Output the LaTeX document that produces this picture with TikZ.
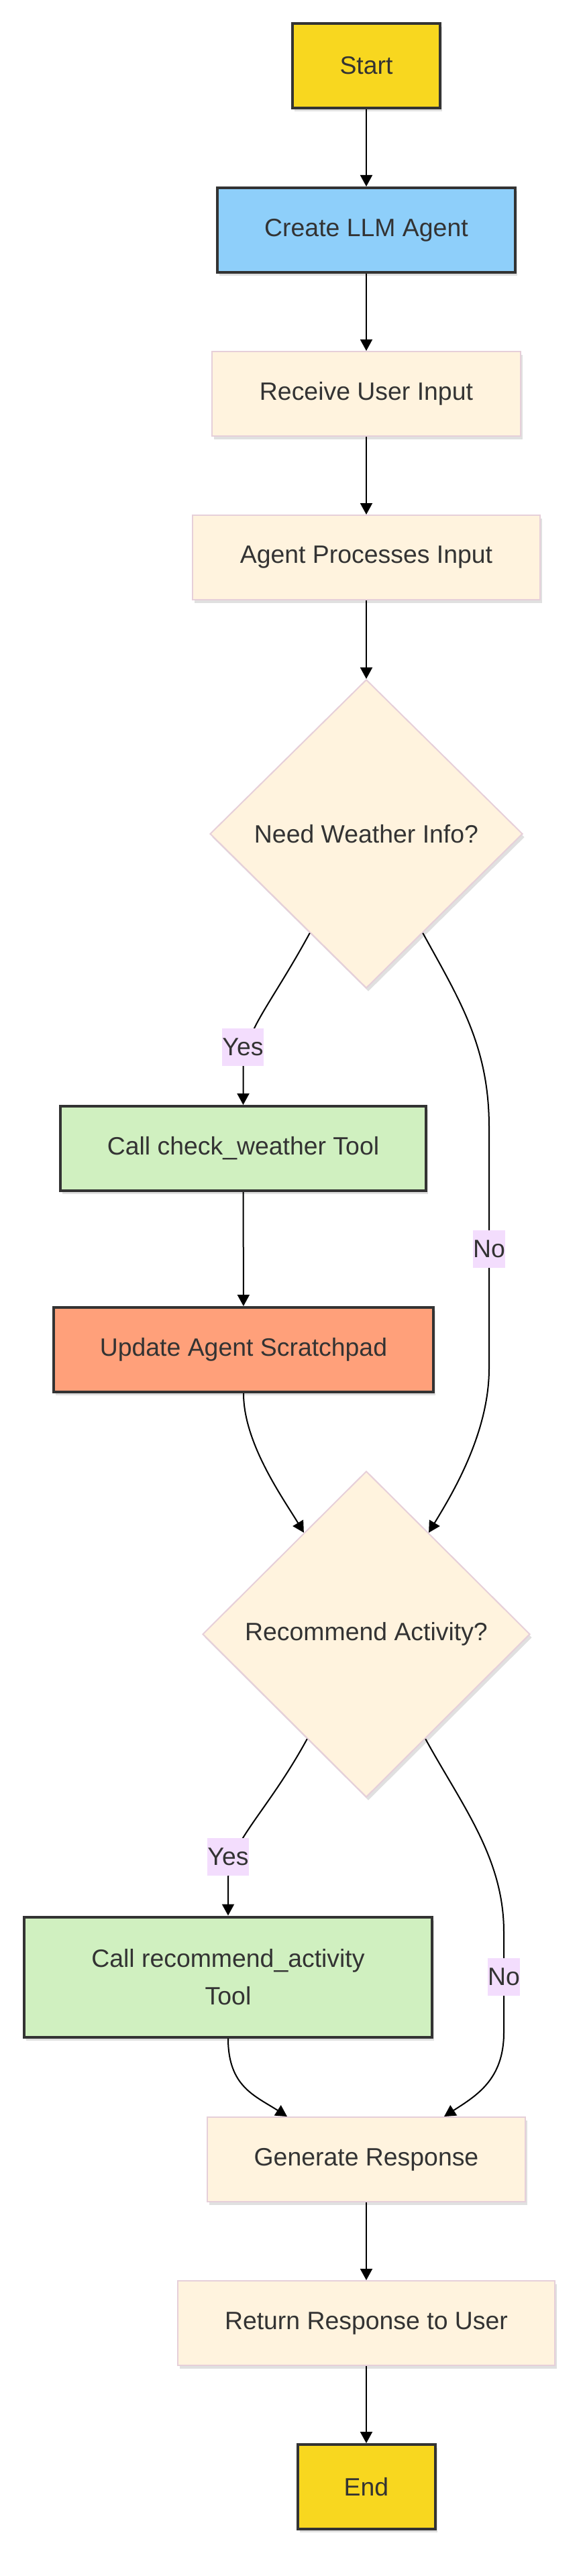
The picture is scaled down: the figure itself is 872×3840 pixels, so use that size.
\documentclass[tikz,border=0pt]{standalone}
\usepackage{fontspec}
\setmainfont{Liberation Sans}
\usetikzlibrary{arrows.meta,shapes.geometric,shadows,calc}

\definecolor{inkgray}{HTML}{333333}
\definecolor{startyellow}{HTML}{F8D71F}
\definecolor{agentblue}{HTML}{8ECFFA}
\definecolor{stepbeige}{HTML}{FFF3DE}
\definecolor{stepedge}{HTML}{E6CFD9}
\definecolor{toolgreen}{HTML}{D0F0C0}
\definecolor{padsalmon}{HTML}{FFA07A}
\definecolor{lblpurple}{HTML}{F3DDFD}

\begin{document}
\begin{tikzpicture}[x=1pt, y=-1pt,
    every node/.style={font=\fontsize{37.4}{56.5}\selectfont, text=inkgray, align=center},
    shade box/.style={drop shadow={fill=black, opacity=0.12, shadow xshift=3pt, shadow yshift=-5pt}},
    hardbox/.style={rectangle, draw=inkgray, line width=4pt, minimum height=126pt, shade box},
    softbox/.style={rectangle, draw=stepedge, line width=2pt, fill=stepbeige, minimum height=126pt, shade box},
    choice/.style={diamond, draw=stepedge, line width=2pt, fill=stepbeige, inner sep=0pt, shade box},
    lbl/.style={fill=lblpurple, inner xsep=0pt, inner ysep=0pt, minimum height=56pt},
    flow/.style={-{Triangle[width=18pt,length=17pt]}, line width=2pt, black}]
    \useasboundingbox (0,0) rectangle (872,3840);

    \node[hardbox, fill=startyellow, minimum width=220pt] (start) at (546,98) {Start};
    \node[hardbox, fill=agentblue, minimum width=444pt] (create) at (546,343) {Create LLM Agent};
    \node[softbox, minimum width=460pt] (receive) at (546,587) {Receive User Input};
    \node[softbox, minimum width=518pt] (process) at (546,831) {Agent Processes Input};
    \node[choice, minimum width=466pt, minimum height=460pt] (weather) at (546,1243) {Need Weather Info?};
    \node[hardbox, fill=toolgreen, minimum width=545pt] (callweather) at (362.5,1712) {Call check\_weather Tool};
    \node[hardbox, fill=padsalmon, minimum width=566pt] (update) at (363,2012) {Update Agent Scratchpad};
    \node[choice, minimum width=488pt, minimum height=486pt] (recommend) at (546,2436) {Recommend Activity?};
    \node[hardbox, fill=toolgreen, minimum width=608pt, minimum height=179pt] (callrec) at (340,2947) {Call recommend\_activity\\Tool};
    \node[softbox, minimum width=474pt] (generate) at (546,3219) {Generate Response};
    \node[softbox, minimum width=562pt] (reply) at (546,3463) {Return Response to User};
    \node[hardbox, fill=startyellow, minimum width=205pt] (stop) at (546,3707) {End};

    \foreach \a/\b in {start/create, create/receive, receive/process, process/weather,
                       callweather/update, generate/reply, reply/stop}
        \draw[flow] (\a) -- (\b);

    \draw[flow] ($(weather.west)!0.64!(weather.south)$) .. controls +(-60,110) and +(0,-55)
        .. ($(callweather.north)+(0,-53)$) -- (callweather.north);
    \draw[flow] ($(weather.east)!0.64!(weather.south)$) .. controls +(55,100) and +(0,-120)
        .. (729,1680) -- (729,2040) .. controls +(0,100) and +(30,-50)
        .. ($(recommend.north)!0.38!(recommend.east)$);
    \draw[flow] (update.south) .. controls +(0,75) and +(-30,-50)
        .. ($(recommend.north)!0.38!(recommend.west)$);
    \draw[flow] ($(recommend.west)!0.64!(recommend.south)$) .. controls +(-60,110) and +(0,-55)
        .. ($(callrec.north)+(0,-53)$) -- (callrec.north);
    \draw[flow] ($(recommend.east)!0.64!(recommend.south)$) .. controls +(55,100) and +(0,-110)
        .. (751,2880) -- (751,3030) .. controls +(0,70) and +(48,-31)
        .. ($(generate.north)+(116,0)$);
    \draw[flow] (callrec.south) .. controls +(0,72) and +(-48,-31)
        .. ($(generate.north)+(-118,0)$);

    \node[lbl] (yes1) at (362,1561) {Yes};
    \node[lbl] (no1) at (729,1862) {No};
    \node[lbl] (yes2) at (340,2768) {Yes};
    \node[lbl] (no2) at (751,2947) {No};
\end{tikzpicture}
\end{document}
